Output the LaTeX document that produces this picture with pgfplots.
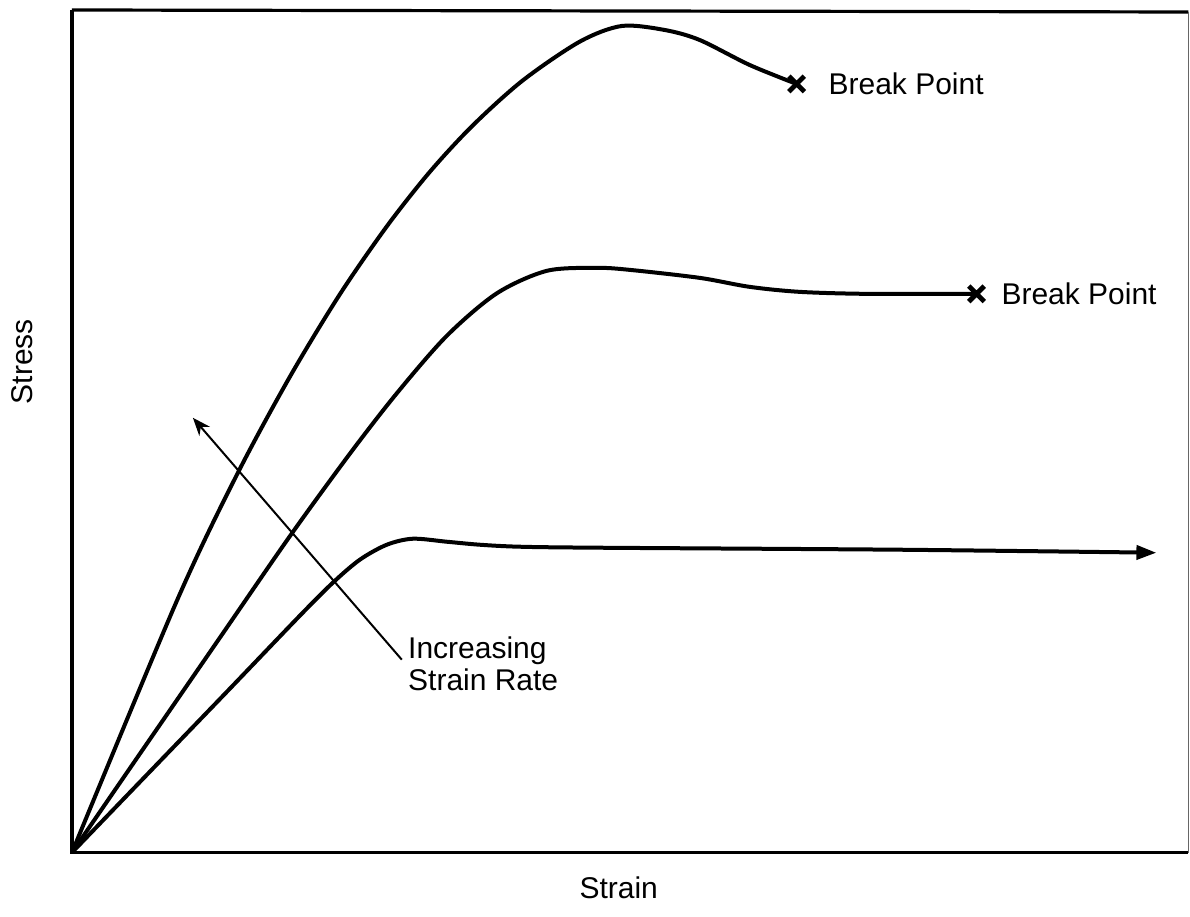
\documentclass[border=0pt]{standalone}
\usepackage{pgfplots}
\pgfplotsset{compat=1.18}
\usepackage{fontspec}
\setmainfont{Liberation Sans}
\usetikzlibrary{arrows.meta}

\newcommand{\lbl}{\fontsize{15}{16}\selectfont}

\begin{document}
\begin{tikzpicture}
\begin{axis}[
  scale only axis,
  width=558.5pt, height=421.5pt,
  xmin=72, xmax=1189, ymin=0, ymax=843,
  hide axis, clip=false,
]
% page size (px grid of the reference)
\path (axis cs:0,-64) rectangle (axis cs:1190,853);

% frame
\draw[line width=1.6pt] (axis cs:72,843) -- (axis cs:72,0) -- (axis cs:1189,0);
\draw[line width=1.6pt] (axis cs:72,843) -- (axis cs:1189,841);
\draw[line width=0.5pt, black!60] (axis cs:1189,0) -- (axis cs:1189,841);

% highest strain rate
\addplot[black, line width=2pt, smooth] coordinates {
  (72,0) (177,252) (237,378) (290,476) (340,558.5) (387,626.5)
  (430,681) (473,727.5) (523,772.5) (580,811.3) (622,827) (665,823)
  (700,813) (750,788) (797,769)};
% medium strain rate
\addplot[black, line width=2pt, smooth] coordinates {
  (72,0) (127,80) (220,215) (290,316.5) (350,399) (397,459.5) (447,517)
  (497,559.5) (547,582) (597,585) (630,583) (700,575) (750,566)
  (800,561) (867,559) (977,559)};
% lowest strain rate
\addplot[black, line width=2pt, smooth, -{Triangle[length=10pt,width=7pt]}] coordinates {
  (72,0) (150,81) (230,164) (300,237) (333,270) (360,293) (387,308)
  (413,314) (447,311) (480,308) (520,306) (600,305) (900,303) (1157,300)};

% break points
\addplot[black, only marks, mark=x, mark size=5.5pt, line width=2.4pt] coordinates {
  (797,769) (977,559)};
\node[anchor=west, font=\lbl] at (axis cs:822,769) {Break Point};
\node[anchor=west, font=\lbl] at (axis cs:995,559) {Break Point};

% increasing strain rate arrow
\addplot[black, line width=1pt, -{Stealth[length=9pt,width=7pt]}] coordinates {
  (402,193) (193,435)};
\node[anchor=north west, align=left, inner sep=0pt, font=\lbl] at (axis cs:408,216)
  {Increasing\\Strain Rate};

% axis titles
\node[rotate=90, font=\lbl] at (axis cs:22,491) {Stress};
\node[font=\lbl] at (axis cs:619,-35) {Strain};
\end{axis}
\end{tikzpicture}
\end{document}
